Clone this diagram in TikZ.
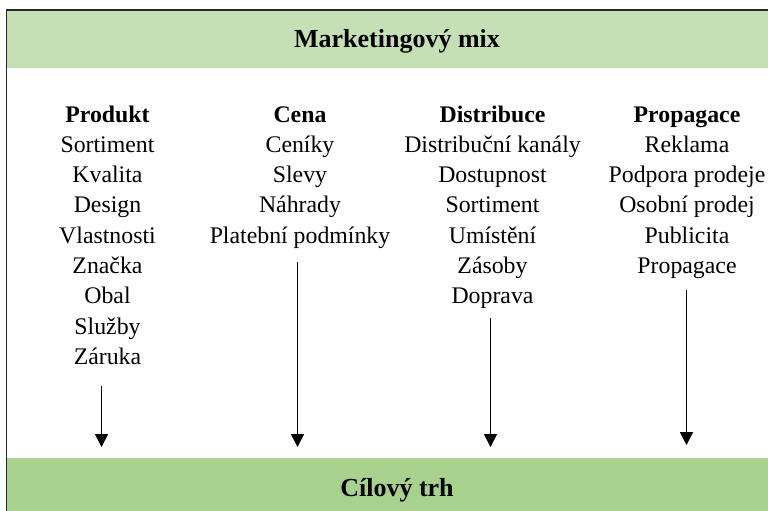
\documentclass[tikz,border=0pt]{standalone}
\usepackage{fontspec}
\setmainfont{Liberation Serif}
\usetikzlibrary{arrows.meta}
\definecolor{topgreen}{HTML}{C5E0B4}
\definecolor{botgreen}{HTML}{A9D18E}
\begin{document}
\begin{tikzpicture}[x=1pt,y=-1pt,
  item/.style={anchor=base,inner sep=0pt,font=\fontsize{23.8}{28}\selectfont},
  head/.style={item,font=\fontsize{23.8}{28}\selectfont\bfseries},
  bandtext/.style={inner sep=0pt,font=\fontsize{26}{30}\selectfont\bfseries},
  arr/.style={line width=1.8pt,-{Triangle[width=13pt,length=13pt]}}]
\useasboundingbox (0,0) rectangle (768,511);
\fill[white] (0,0) rectangle (768,511);
% bands
\fill[topgreen] (7,11) rectangle (768,68);
\fill[botgreen] (7,458) rectangle (768,511);
\draw[line width=1.3pt,black!85] (6.5,511) -- (6.5,10) -- (768,10);
\node[bandtext] (title) at (397,41) {Marketingový mix};
\node[bandtext] (target) at (397,490) {Cílový trh};
% columns
\node[head] (p0) at (107.5,122) {Produkt};
\foreach \t [count=\i] in {Sortiment,Kvalita,Design,Vlastnosti,Značka,Obal,Služby,Záruka}
  \node[item] (p\i) at (107.5,{122+30.3*\i}) {\t};
\node[head] (c0) at (300,122) {Cena};
\foreach \t [count=\i] in {Ceníky,Slevy,Náhrady,Platební podmínky}
  \node[item] (c\i) at (300,{122+30.3*\i}) {\t};
\node[head] (d0) at (492.5,122) {Distribuce};
\foreach \t [count=\i] in {Distribuční kanály,Dostupnost,Sortiment,Umístění,Zásoby,Doprava}
  \node[item] (d\i) at (492.5,{122+30.3*\i}) {\t};
\node[head] (r0) at (687,122) {Propagace};
\foreach \t [count=\i] in {Reklama,Podpora prodeje,Osobní prodej,Publicita,Propagace}
  \node[item] (r\i) at (687,{122+30.3*\i}) {\t};
% arrows
\coordinate (a1s) at (101.5,386); \coordinate (a1e) at (101.5,447);
\coordinate (a2s) at (297.5,262); \coordinate (a2e) at (297.5,447);
\coordinate (a3s) at (490.5,318); \coordinate (a3e) at (490.5,447);
\coordinate (a4s) at (686.5,290); \coordinate (a4e) at (686.5,445);
\draw[arr] (a1s) -- (a1e);
\draw[arr] (a2s) -- (a2e);
\draw[arr] (a3s) -- (a3e);
\draw[arr] (a4s) -- (a4e);
\end{tikzpicture}
\end{document}
